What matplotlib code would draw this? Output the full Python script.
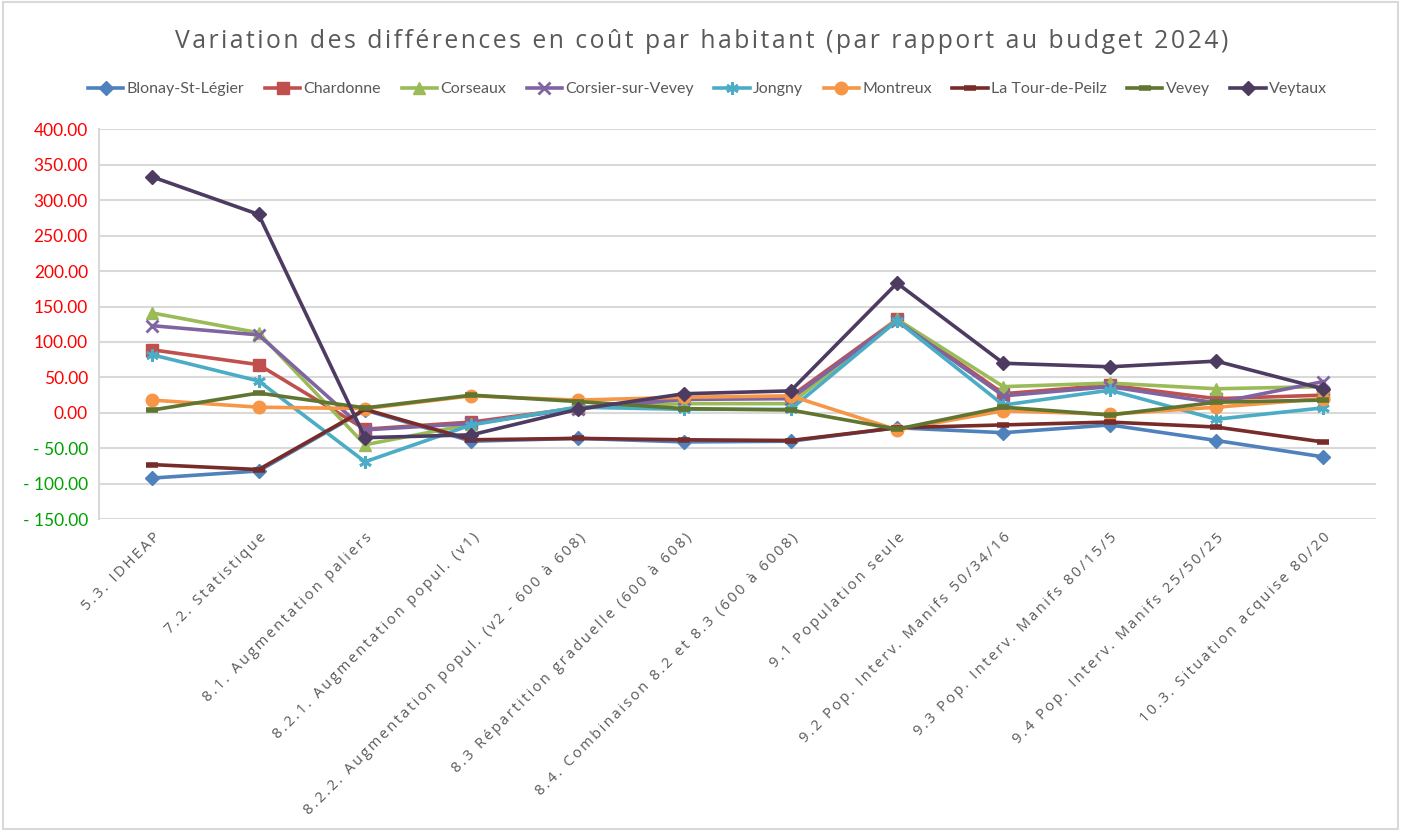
import matplotlib.pyplot as plt
from matplotlib.patches import Rectangle
from matplotlib.ticker import FixedLocator

plt.rcParams['font.family'] = ['Lato', 'DejaVu Sans']

categories = [
    "5.3. IDHEAP",
    "7.2. Statistique",
    "8.1. Augmentation paliers",
    "8.2.1. Augmentation popul. (v1)",
    "8.2.2. Augmentation popul. (v2 - 600 à 608)",
    "8.3 Répartition graduelle (600 à 608)",
    "8.4. Combinaison 8.2 et 8.3 (600 à 6008)",
    "9.1 Population seule",
    "9.2 Pop. Interv. Manifs 50/34/16",
    "9.3 Pop. Interv. Manifs 80/15/5",
    "9.4 Pop. Interv. Manifs 25/50/25",
    "10.3. Situation acquise 80/20",
]
title = "Variation des différences en coût par habitant (par rapport au budget 2024)"

blonay = [-92, -82, 4, -40, -36, -41, -40, -21, -28, -17, -39, -62]
chardonne = [89, 68, -23, -13, 7, 21, 23, 132, 27, 39, 20, 25]
corseaux = [141, 113, -45, -16, 8, 13, 13, 132, 37, 42, 34, 37]
corsier = [123, 110, -24, -15, 6, 19, 20, 130, 24, 37, 14, 44]
jongny = [82, 45, -69, -17, 8, 5, 5, 130, 11, 32, -9, 7]
montreux = [18, 8, 6, 24, 18, 22, 24, -24, 3, -2, 8, 20]
latour = [-73, -80, 5, -38, -36, -38, -39, -21, -17, -13, -20, -41]
vevey = [4, 28, 7, 25, 16, 6, 4, -23, 8, -3, 15, 18]
veytaux = [333, 280, -35, -31, 5, 27, 31, 183, 70, 65, 73, 34]

series = [
    ("Blonay-St-Légier", blonay, "#4F81BD", "D", 7),
    ("Chardonne", chardonne, "#C0504D", "s", 8),
    ("Corseaux", corseaux, "#9BBB59", "^", 8),
    ("Corsier-sur-Vevey", corsier, "#8064A2", "x", 8),
    ("Jongny", jongny, "#4BACC6", (6, 2, 0), 9),
    ("Montreux", montreux, "#F79646", "o", 9),
    ("La Tour-de-Peilz", latour, "#772C2A", "_", 9),
    ("Vevey", vevey, "#5F7530", "_", 9),
    ("Veytaux", veytaux, "#4D3B62", "D", 7),
]


def spaced(s, sep):
    # fake Excel's character spacing
    return sep.join(s)


fig = plt.figure(figsize=(14.04, 8.32), dpi=100)
ax = fig.add_axes([0.0705, 0.376, 0.9095, 0.4685])

x = list(range(len(categories)))
for name, vals, col, mk, ms in series:
    mew = 2 if mk in ("x", (6, 2, 0)) else (4 if mk == "_" else 1)
    ax.plot(x, vals, color=col, lw=2.6, marker=mk, markersize=ms,
            markerfacecolor=col, markeredgecolor=col, markeredgewidth=mew,
            label=name)

ax.set_xlim(-0.5, len(categories) - 0.5)
ax.set_ylim(-150, 400)
ticks = list(range(-150, 401, 50))
ax.yaxis.set_major_locator(FixedLocator(ticks))
ax.set_yticklabels([f"{t:.2f}" if t >= 0 else f"- {abs(t):.2f}" for t in ticks],
                   fontsize=12.5)
for lab, t in zip(ax.get_yticklabels(), ticks):
    lab.set_color("#FF0000" if t >= 0 else "#00A000")
ax.tick_params(axis="y", length=0, pad=8)

ax.set_xticks(x)
ax.set_xticklabels([spaced(c, "\u2009") for c in categories], rotation=45, ha="right",
                   rotation_mode="anchor", fontsize=10.5, color="#595959",
                   family=["Open Sans", "DejaVu Sans"])
ax.tick_params(axis="x", length=0, pad=8)

ax.grid(axis="y", color="#D9D9D9", lw=1.5)
ax.set_axisbelow(True)
for s in ("top", "right", "bottom"):
    ax.spines[s].set_visible(False)
ax.spines["left"].set_color("#D9D9D9")
ax.spines["left"].set_linewidth(1.5)

fig.text(0.5, 0.95, spaced(title, "\u200a"),
         ha="center", va="center", fontsize=17.8, color="#595959",
         family=["Open Sans", "DejaVu Sans"])

leg = fig.legend(loc="center", bbox_to_anchor=(0.504, 0.893), ncol=9, frameon=False,
                 fontsize=11.5, handlelength=2.2, columnspacing=1.3, handletextpad=0.2)
for t in leg.get_texts():
    t.set_color("#595959")

fig.patches.append(Rectangle((0.002, 0.004), 0.994, 0.993, transform=fig.transFigure,
                             fill=False, edgecolor="#D9D9D9", lw=1.5))

fig.savefig("out.png", dpi=100)
